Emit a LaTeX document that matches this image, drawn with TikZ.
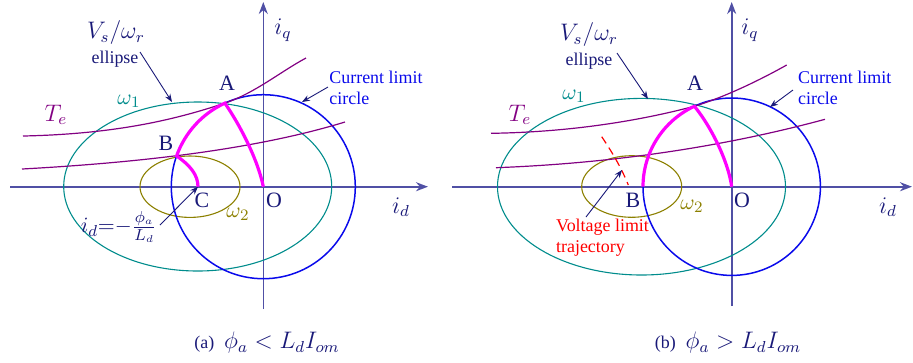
\documentclass[tikz,border=0pt]{standalone}
\usepackage{fontspec}
\setmainfont{Liberation Serif}
\usepackage{xcolor}
\usetikzlibrary{arrows.meta,calc}

\definecolor{axisblue}{RGB}{80,80,165}
\definecolor{labelnavy}{RGB}{25,25,120}
\definecolor{limitblue}{RGB}{10,10,235}
\definecolor{wteal}{RGB}{0,140,140}
\definecolor{wolive}{RGB}{140,128,0}
\definecolor{tepurple}{RGB}{130,0,130}
\definecolor{trajmag}{RGB}{255,0,255}

\begin{document}
\begin{tikzpicture}[
  x=0.5bp, y=-0.5bp,
  haxis/.style={draw=axisblue,line width=1.2bp,-{Stealth[length=6bp,width=4.5bp]}},
  vaxis/.style={draw=axisblue,line width=0.8bp,-{Stealth[length=6bp,width=4.5bp]}},
  limit/.style={draw=limitblue,line width=0.75bp},
  wone/.style={draw=wteal,line width=0.55bp},
  wtwo/.style={draw=wolive,line width=0.55bp},
  torque/.style={draw=tepurple,line width=0.6bp},
  traj/.style={draw=trajmag,line width=1.6bp},
  note/.style={draw=labelnavy,line width=0.45bp,-{Stealth[length=4bp,width=3bp]}},
  pt/.style={text=labelnavy,font=\fontsize{11}{12}\selectfont,inner sep=0pt},
  axlbl/.style={text=labelnavy,font=\fontsize{12}{13}\selectfont,inner sep=0pt},
  txt/.style={font=\fontsize{9}{10.5}\selectfont,align=left,inner sep=0pt},
  captxt/.style={text=labelnavy,inner sep=0pt}
]
\useasboundingbox (0,0) rectangle (913,362);

% ---------------- (a) ----------------
\coordinate (Oa) at (263.3,186.7);
\coordinate (Aa) at ($(Oa)+(-114.7:92)$);
\coordinate (Ba) at ($(Oa)+(-160.5:92)$);
\coordinate (Ca) at (198,186.7);
\coordinate (xa0) at (10,186.7);
\coordinate (xa1) at (428,186.7);
\coordinate (ya0) at (263.3,309);
\coordinate (ya1) at (263.3,2);

\draw[haxis] (xa0) -- (xa1);
\draw[vaxis] (ya0) -- (ya1);
\draw[wone] (197.7,186.5) ellipse [x radius=134, y radius=84.5];
\draw[wtwo] (190,186.7) ellipse [x radius=50, y radius=30.7];
\draw[limit] (Oa) circle [radius=92];
\draw[torque] (23,136) .. controls (120,134) and (180,118) .. (Aa)
  .. controls (255,93) and (280,72) .. (306,58);
\draw[torque] (22,169) .. controls (150,162) and (260,148) .. (345,122);
\draw[traj] (Oa) .. controls (258,160) and (240,125) .. (Aa)
  arc[start angle=-114.7, end angle=-160.5, radius=92]
  .. controls (190,165) and (198,175) .. (Ca);

\node[pt] (lblAa) at (227,83) {A};
\node[pt] (lblBa) at (166,143) {B};
\node[pt] (lblCa) at (202,200) {C};
\node[pt] (lblOa) at (274,200) {O};
\node[axlbl] (iqa) at (283,30) {$i_q$};
\node[axlbl] (ida) at (401,207) {$i_d$};
\node[axlbl,text=tepurple] (tea) at (56,115) {$T_e$};
\node[pt,text=wteal] (w1a) at (129,101) {$\omega_1$};
\node[pt,text=wolive] (w2a) at (238,214) {$\omega_2$};
\node[axlbl] (vsa) at (116,33) {$V_s/\omega_r$};
\node[txt,text=labelnavy] (ella) at (115,59) {ellipse};
\node[txt,text=limitblue,anchor=west] (cla) at (329,88) {Current limit\\circle};
\node[pt,anchor=east] (ida2) at (157,227) {$i_d{=}{-}\frac{\phi_a}{L_d}$};
\node[captxt] (capa) at (267,343)
  {{\fontsize{9}{10}\selectfont (a)}\enspace{\fontsize{12}{13}\selectfont$\phi_a < L_d I_{om}$}};

\coordinate (vsa-tail) at (140,52);
\coordinate (vsa-head) at (172,102);
\coordinate (cla-tail) at (328,87);
\coordinate (cla-head) at (302,102);
\coordinate (ida-tail) at (160,225);
\draw[note] (vsa-tail) -- (vsa-head);
\draw[note] (cla-tail) -- (cla-head);
\draw[note] (ida-tail) -- (Ca);

% ---------------- (b) ----------------
\coordinate (Ob) at (731.7,186.7);
\coordinate (Ab) at ($(Ob)+(-114.9:88.7)$);
\coordinate (Bb) at ($(Ob)+(180:88.7)$);
\coordinate (xb0) at (452,186.7);
\coordinate (xb1) at (912,186.7);
\coordinate (yb0) at (731.7,306);
\coordinate (yb1) at (731.7,2);

\draw[haxis] (xb0) -- (xb1);
\draw[vaxis] (yb0) -- (yb1);
\draw[wone] (641.5,186.7) ellipse [x radius=144, y radius=88.3];
\draw[wtwo] (631.7,186.5) ellipse [x radius=50, y radius=30.8];
\draw[limit] (Ob) circle [radius=88.7];
\draw[torque] (491,133.3) .. controls (580,132) and (650,118) .. (Ab)
  .. controls (725,97) and (760,80) .. (786.7,65);
\draw[torque] (496,167.7) .. controls (620,163) and (730,145) .. (825,119.3);
\draw[traj] (Ob) .. controls (728,160) and (710,125) .. (Ab)
  arc[start angle=-114.9, end angle=-180, radius=88.7];
\draw[draw=red,line width=0.6bp,dash pattern=on 4bp off 2.5bp]
  (601.7,136.7) .. controls (612,152) and (621,167) .. (628.3,185);

\node[pt] (lblAb) at (695,83) {A};
\node[pt] (lblBb) at (633,200) {B};
\node[pt] (lblOb) at (742,200) {O};
\node[axlbl] (iqb) at (750,30) {$i_q$};
\node[axlbl] (idb) at (888,207) {$i_d$};
\node[axlbl,text=tepurple] (teb) at (520,115) {$T_e$};
\node[pt,text=wteal] (w1b) at (574,96) {$\omega_1$};
\node[pt,text=wolive] (w2b) at (692,206) {$\omega_2$};
\node[axlbl] (vsb) at (589,35) {$V_s/\omega_r$};
\node[txt,text=labelnavy] (ellb) at (589,61) {ellipse};
\node[txt,text=limitblue,anchor=west] (clb) at (797.7,88) {Current limit\\circle};
\node[txt,text=red,anchor=west] (vlb) at (555.7,238) {Voltage limit\\trajectory};
\node[captxt] (capb) at (728,343)
  {{\fontsize{9}{10}\selectfont (b)}\enspace{\fontsize{12}{13}\selectfont$\phi_a > L_d I_{om}$}};

\coordinate (vsb-tail) at (617,53);
\coordinate (vsb-head) at (648,99);
\coordinate (clb-tail) at (793,90);
\coordinate (clb-head) at (770,107);
\coordinate (vlb-tail) at (586,217);
\coordinate (vlb-head) at (622,170);
\draw[note] (vsb-tail) -- (vsb-head);
\draw[note] (clb-tail) -- (clb-head);
\draw[note] (vlb-tail) -- (vlb-head);
\end{tikzpicture}
\end{document}
